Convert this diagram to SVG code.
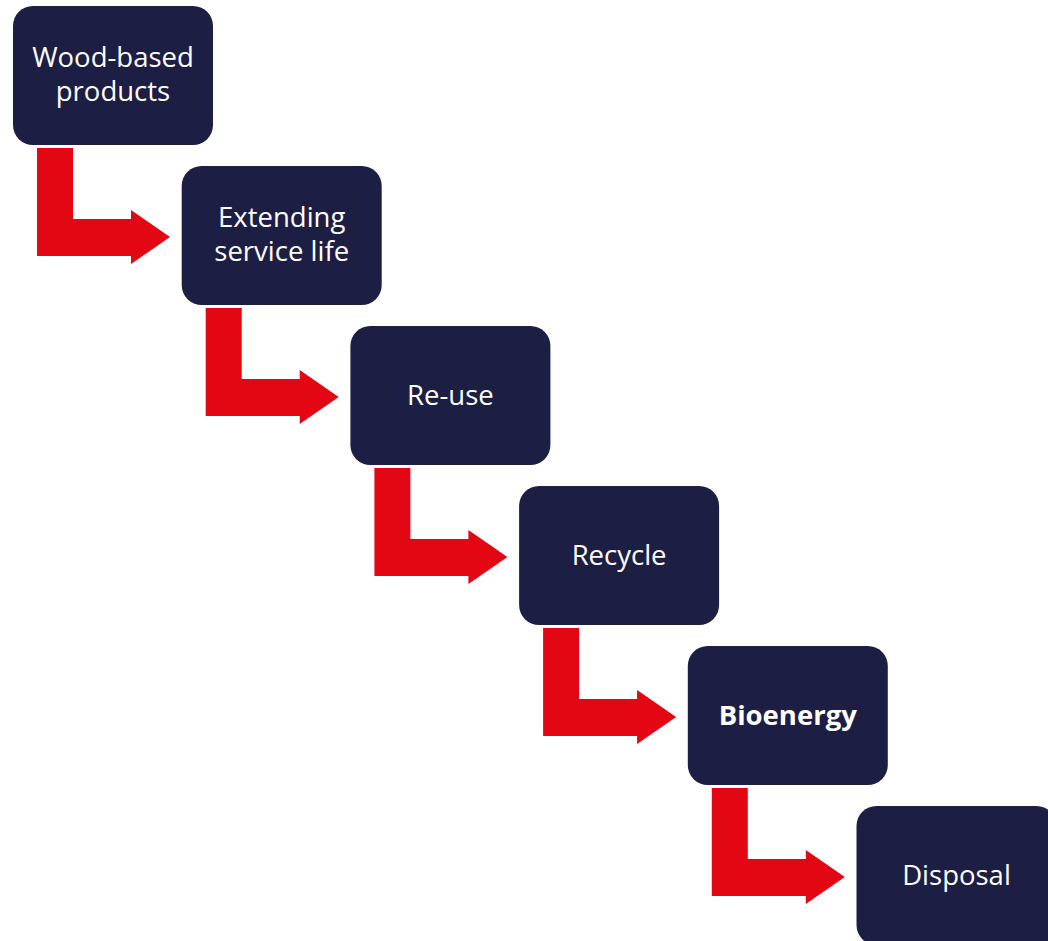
<svg xmlns="http://www.w3.org/2000/svg" width="1048" height="941" viewBox="0 0 1048 941">
<defs>
<style>
.box{fill:#1d1e44;}
.arr{fill:#e30613;}
.t{fill:#ffffff;font-family:"Open Sans","Liberation Sans",sans-serif;font-size:27.5px;text-anchor:middle;}
.b{font-weight:bold;}
</style>
<path id="bent" d="M24,142 H60 V213 H118 V204 L157,231 L118,258 V250 H24 Z"/>
</defs>
<rect width="1048" height="941" fill="#ffffff"/>
<g id="connectors">
<use href="#bent" class="arr" transform="translate(13,6)"/>
<use href="#bent" class="arr" transform="translate(181.7,166)"/>
<use href="#bent" class="arr" transform="translate(350.4,326)"/>
<use href="#bent" class="arr" transform="translate(519.1,486)"/>
<use href="#bent" class="arr" transform="translate(687.8,646)"/>
</g>
<g id="node-wood">
<rect class="box" x="13" y="6" width="200" height="139" rx="20"/>
<text class="t" x="113" y="67">Wood-based</text>
<text class="t" x="113" y="101">products</text>
</g>
<g id="node-extending">
<rect class="box" x="181.7" y="166" width="200" height="139" rx="20"/>
<text class="t" x="281.7" y="227">Extending</text>
<text class="t" x="281.7" y="261">service life</text>
</g>
<g id="node-reuse">
<rect class="box" x="350.4" y="326" width="200" height="139" rx="20"/>
<text class="t" x="450.4" y="405">Re-use</text>
</g>
<g id="node-recycle">
<rect class="box" x="519.1" y="486" width="200" height="139" rx="20"/>
<text class="t" x="619.1" y="565">Recycle</text>
</g>
<g id="node-bioenergy">
<rect class="box" x="687.8" y="646" width="200" height="139" rx="20"/>
<text class="t b" x="787.8" y="725">Bioenergy</text>
</g>
<g id="node-disposal">
<rect class="box" x="856.5" y="806" width="200" height="139" rx="20"/>
<text class="t" x="956.5" y="885">Disposal</text>
</g>
</svg>
